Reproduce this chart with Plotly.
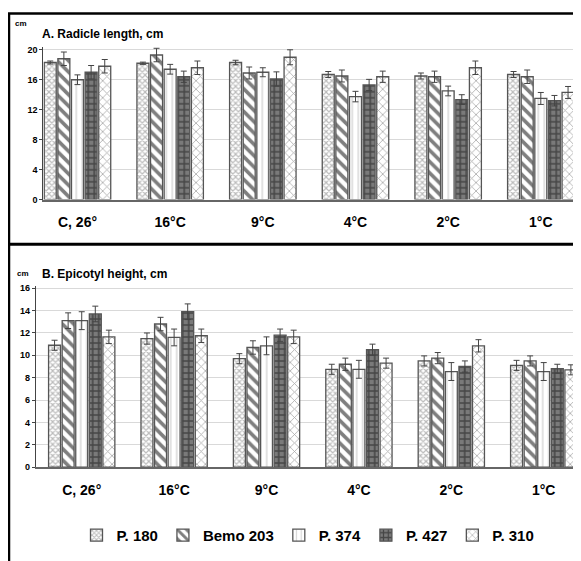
import plotly.graph_objects as go

W, H = 581, 561

categories = ["C, 26°", "16°C", "9°C", "4°C", "2°C", "1°C"]
series_names = ["P. 180", "Bemo 203", "P. 374", "P. 427", "P. 310"]

radicle_p180 = [18.3, 18.2, 18.3, 16.7, 16.5, 16.7]
radicle_bemo203 = [18.8, 19.3, 16.9, 16.5, 16.4, 16.4]
radicle_p374 = [16.0, 17.4, 17.0, 13.75, 14.5, 13.5]
radicle_p427 = [17.0, 16.4, 16.1, 15.3, 13.35, 13.2]
radicle_p310 = [17.8, 17.6, 19.0, 16.4, 17.6, 14.3]

radicle_err_p180 = [0.2, 0.15, 0.3, 0.4, 0.4, 0.4]
radicle_err_bemo203 = [0.9, 0.9, 0.8, 0.8, 0.75, 0.9]
radicle_err_p374 = [0.65, 0.65, 0.6, 0.7, 0.65, 0.8]
radicle_err_p427 = [0.9, 0.75, 0.95, 0.75, 0.65, 0.7]
radicle_err_p310 = [0.9, 0.9, 1.0, 0.75, 0.9, 0.8]

epicotyl_p180 = [10.9, 11.5, 9.7, 8.75, 9.5, 9.1]
epicotyl_bemo203 = [13.1, 12.8, 10.7, 9.2, 9.75, 9.5]
epicotyl_p374 = [13.1, 11.6, 10.85, 8.75, 8.55, 8.55]
epicotyl_p427 = [13.7, 13.9, 11.8, 10.5, 9.0, 8.8]
epicotyl_p310 = [11.65, 11.75, 11.65, 9.3, 10.85, 8.7]

epicotyl_err_p180 = [0.45, 0.5, 0.45, 0.45, 0.45, 0.45]
epicotyl_err_bemo203 = [0.7, 0.6, 0.6, 0.55, 0.5, 0.45]
epicotyl_err_p374 = [0.8, 0.75, 0.8, 0.8, 0.8, 0.8]
epicotyl_err_p427 = [0.7, 0.7, 0.55, 0.5, 0.5, 0.4]
epicotyl_err_p310 = [0.6, 0.6, 0.6, 0.45, 0.55, 0.45]

radicle = [radicle_p180, radicle_bemo203, radicle_p374, radicle_p427, radicle_p310]
radicle_err = [radicle_err_p180, radicle_err_bemo203, radicle_err_p374, radicle_err_p427, radicle_err_p310]
epicotyl = [epicotyl_p180, epicotyl_bemo203, epicotyl_p374, epicotyl_p427, epicotyl_p310]
epicotyl_err = [epicotyl_err_p180, epicotyl_err_bemo203, epicotyl_err_p374, epicotyl_err_p427, epicotyl_err_p310]

patterns = [
    dict(shape="x", fgcolor="#777777", bgcolor="#ffffff", size=4, solidity=0.5),
    dict(shape="\\", fgcolor="#000000", bgcolor="#ffffff", size=8, solidity=0.45),
    dict(shape="|", fgcolor="#b0b0b0", bgcolor="#ffffff", size=6, solidity=0.25),
    dict(shape="+", fgcolor="#111111", bgcolor="#7a7a7a", size=6, solidity=0.45),
    dict(shape="x", fgcolor="#555555", bgcolor="#ffffff", size=6, solidity=0.25),
]

FONT = "Liberation Sans, Arial, sans-serif"

fig = go.Figure()

for i, name in enumerate(series_names):
    fig.add_trace(go.Bar(
        x=categories, y=radicle[i], name=name,
        error_y=dict(type="data", array=radicle_err[i], color="#444444", thickness=1, width=3),
        marker=dict(pattern=patterns[i], color="#ffffff", line=dict(color="#555555", width=1.3)),
        xaxis="x", yaxis="y", showlegend=True, legendgroup=name,
    ))
for i, name in enumerate(series_names):
    fig.add_trace(go.Bar(
        x=categories, y=epicotyl[i], name=name,
        error_y=dict(type="data", array=epicotyl_err[i], color="#444444", thickness=1, width=3),
        marker=dict(pattern=patterns[i], color="#ffffff", line=dict(color="#555555", width=1.3)),
        xaxis="x2", yaxis="y2", showlegend=False, legendgroup=name,
    ))

OFF = 8  # page body margin offset


def sx(px):
    return (px - OFF) / W


def sy(py):
    return 1 - (py - OFF) / H


axis_common_x = dict(
    type="category", showgrid=False, showline=True, linecolor="#666666", linewidth=1.5,
    ticks="outside", ticklen=9, tickcolor="rgba(0,0,0,0)",
    tickfont=dict(family=FONT, size=14, color="#000000", weight="bold"),
    fixedrange=True,
)
axis_common_y = dict(
    showgrid=True, gridcolor="#d9d9d9", gridwidth=1, showline=True, linecolor="#444444",
    linewidth=1, ticks="outside", ticklen=3, tickcolor="#444444", zeroline=False,
    tickfont=dict(family=FONT, size=9, color="#000000", weight="bold"),
    fixedrange=True,
)

fig.update_layout(
    width=W, height=H,
    margin=dict(l=0, r=0, t=0, b=0),
    paper_bgcolor="#ffffff", plot_bgcolor="#ffffff",
    barmode="group", bargap=0.265, bargroupgap=0.12,
    font=dict(family=FONT, color="#000000"),
    xaxis=dict(axis_common_x, domain=[sx(43.3), 1], range=[-0.369, 5.520], anchor="y"),
    yaxis=dict(axis_common_y, domain=[sy(199.3), sy(44.3)], range=[0, 20.4],
               tickvals=[0, 4, 8, 12, 16, 20], anchor="x"),
    xaxis2=dict(axis_common_x, domain=[sx(35.7), 1], range=[-0.498, 5.490], anchor="y2"),
    yaxis2=dict(axis_common_y, domain=[sy(470.7), sy(287.0)], range=[0, 16.2],
                tickvals=[0, 2, 4, 6, 8, 10, 12, 14, 16], anchor="x2"),
    legend=dict(
        orientation="h", x=sx(308), xanchor="center", y=sy(540), yanchor="middle",
        font=dict(family=FONT, size=15, color="#000000", weight="bold"),
        itemwidth=30, tracegroupgap=0, bgcolor="rgba(0,0,0,0)",
    ),
    annotations=[
        dict(text="A. Radicle length, cm", x=sx(40), y=sy(31), xref="paper", yref="paper",
             xanchor="left", yanchor="middle", showarrow=False,
             font=dict(family=FONT, size=12, weight="bold")),
        dict(text="cm", x=sx(13), y=sy(21), xref="paper", yref="paper",
             xanchor="left", yanchor="middle", showarrow=False,
             font=dict(family=FONT, size=8, weight="bold")),
        dict(text="B. Epicotyl height, cm", x=sx(40), y=sy(275), xref="paper", yref="paper",
             xanchor="left", yanchor="middle", showarrow=False,
             font=dict(family=FONT, size=12, weight="bold")),
        dict(text="cm", x=sx(15), y=sy(274), xref="paper", yref="paper",
             xanchor="left", yanchor="middle", showarrow=False,
             font=dict(family=FONT, size=8, weight="bold")),
    ],
    shapes=[
        dict(type="line", xref="paper", yref="paper", x0=sx(8), x1=1, y0=sy(10.5), y1=sy(10.5),
             line=dict(color="#000000", width=2.5)),
        dict(type="line", xref="paper", yref="paper", x0=sx(9), x1=sx(9), y0=sy(10), y1=0,
             line=dict(color="#000000", width=2.5)),
        dict(type="line", xref="paper", yref="paper", x0=sx(8), x1=1, y0=sy(244.5), y1=sy(244.5),
             line=dict(color="#000000", width=3)),
    ],
)

fig.write_html("out.html")
